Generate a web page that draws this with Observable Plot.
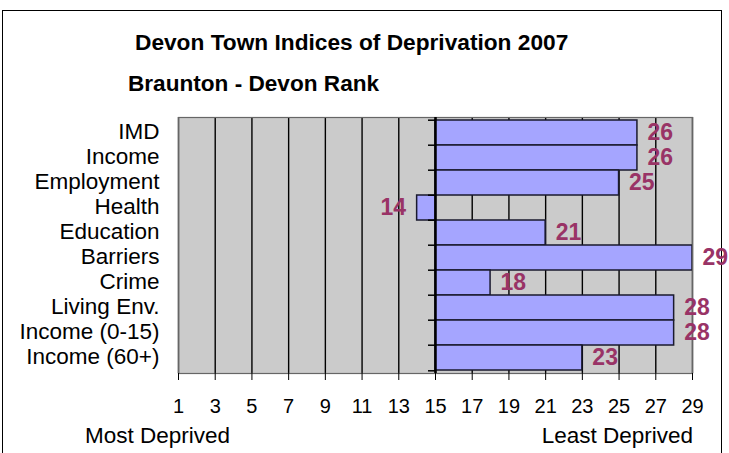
<!DOCTYPE html>
<html>
<head>
<meta charset="utf-8">
<script src="https://cdn.jsdelivr.net/npm/d3@7"></script>
<script src="https://cdn.jsdelivr.net/npm/@observablehq/plot@0.6"></script>
<style>
  html, body { margin: 0; padding: 0; background: #fff; }
  #wrap { position: relative; width: 729px; height: 453px; overflow: hidden; font-family: "Liberation Sans", Arial, sans-serif; color: #000; }
  #border { position: absolute; left: 2px; top: 10px; width: 720px; height: 470px; border: 1px solid #000; box-sizing: border-box; }
  .t { position: absolute; white-space: nowrap; line-height: 1; }
  #chart { position: absolute; left: 0; top: 0; }
</style>
</head>
<body>
<div id="wrap">
  <div id="border"></div>
  <div id="chart"></div>
  <div class="t" id="title" style="left:135px; top:31px; font-size:22.7px; font-weight:bold;">Devon Town Indices of Deprivation 2007</div>
  <div class="t" id="subtitle" style="left:128px; top:73px; font-size:22.6px; font-weight:bold;">Braunton - Devon Rank</div>
  <div class="t" id="left-cap" style="left:85px; top:425px; font-size:22.5px;">Most Deprived</div>
  <div class="t" id="right-cap" style="right:36px; top:425px; font-size:22.5px;">Least Deprived</div>
</div>
<script>
const categories = ["IMD", "Income", "Employment", "Health", "Education", "Barriers", "Crime", "Living Env.", "Income (0-15)", "Income (60+)"];
const values = [26, 26, 25, 14, 21, 29, 18, 28, 28, 23];
const xTicks = [1, 3, 5, 7, 9, 11, 13, 15, 17, 19, 21, 23, 25, 27, 29];
const xDomain = [1, 29];
const baseline = 15;

const rows = categories.map((name, i) => ({name, value: values[i]}));
const band = (453 - 117 - 80) / categories.length;

const plot = Plot.plot({
  width: 729,
  height: 453,
  marginLeft: 178,
  marginRight: 37,
  marginTop: 117,
  marginBottom: 80,
  style: {fontFamily: "'Liberation Sans', Arial, sans-serif", fontSize: "21px", background: "transparent", color: "#000"},
  x: {domain: xDomain, ticks: xTicks, label: null},
  y: {domain: categories, padding: 0, label: null},
  marks: [
    Plot.frame({fill: "#cbcbcb"}),
    Plot.ruleX(xTicks, {stroke: "#000", strokeWidth: 1.4}),
    Plot.barX(rows, {y: "name", x1: () => baseline, x2: "value", fill: "#a5a5ff", stroke: "#1a1a2e", strokeWidth: 1.5}),
    Plot.frame({stroke: "#666", strokeWidth: 1.2}),
    Plot.ruleX([baseline], {stroke: "#000", strokeWidth: 2.5}),
    Plot.ruleY(rows, {y: "name", x1: () => baseline, x2: () => baseline, insetLeft: -7, dy: -band / 2, stroke: "#000", strokeWidth: 1.5}),
    Plot.ruleY(rows.slice(-1), {y: "name", x1: () => baseline, x2: () => baseline, insetLeft: -7, dy: band / 2, stroke: "#000", strokeWidth: 1.5}),
    Plot.axisX({ticks: xTicks, tickSize: 7, tickPadding: 18, fontSize: 20, stroke: "#000", tickFormat: d => String(d), label: null}),
    Plot.axisY({tickSize: 0, tickPadding: 19, fontSize: 22.5, label: null, dy: -1}),
    Plot.text(rows.filter(d => d.value >= baseline), {y: "name", x: "value", text: d => String(d.value), textAnchor: "start", dx: 10, fill: "#993366", fontWeight: "bold", fontSize: 23}),
    Plot.text(rows.filter(d => d.value < baseline), {y: "name", x: "value", text: d => String(d.value), textAnchor: "end", dx: -11, fill: "#993366", fontWeight: "bold", fontSize: 23})
  ]
});
document.getElementById("chart").appendChild(plot);
</script>
</body>
</html>
